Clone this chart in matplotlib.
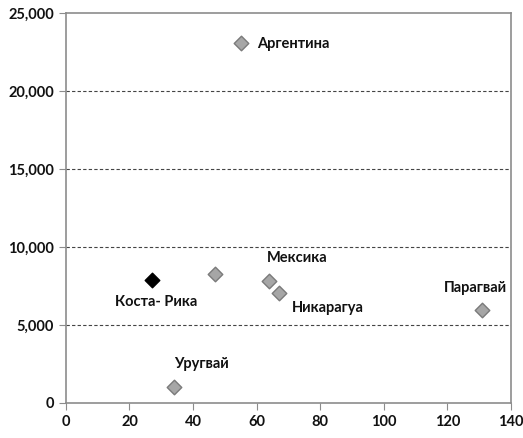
import matplotlib
matplotlib.use("Agg")
from matplotlib import pyplot as plt
from matplotlib.ticker import FuncFormatter

countries = ['Аргентина', '', 'Мексика', 'Никарагуа', 'Парагвай', 'Уругвай']
x_vals = [55, 47, 64, 67, 131, 34]
y_vals = [23100, 8250, 7850, 7050, 5950, 1000]

hl_name = 'Коста- Рика'
hl_x = 27
hl_y = 7900

# label offsets in points (dx, dy) and alignment
offsets = {
    'Аргентина': (12, -1, 'left', 'center'),
    'Мексика': (20, 16, 'center', 'center'),
    'Никарагуа': (9, -11, 'left', 'center'),
    'Парагвай': (-5, 16, 'center', 'center'),
    'Уругвай': (20, 17, 'center', 'center'),
}

plt.rcParams['font.family'] = ['Lato', 'DejaVu Sans']
plt.rcParams['font.weight'] = 'bold'

fig = plt.figure(figsize=(5.23, 4.38), dpi=100)
ax = fig.add_axes([0.126, 0.080, 0.851, 0.890])

ax.scatter(x_vals, y_vals, marker='D', s=55, color='#a6a6a6',
           edgecolor='#7a7a7a', linewidth=1, zorder=3)
ax.scatter([hl_x], [hl_y], marker='D', s=55, color='black',
           edgecolor='black', linewidth=1, zorder=3)

for name, x, y in zip(countries, x_vals, y_vals):
    if not name:
        continue
    dx, dy, ha, va = offsets[name]
    ax.annotate(name, (x, y), xytext=(dx, dy), textcoords='offset points',
                ha=ha, va=va, fontsize=10.5, fontweight='bold', color='#111111')
ax.annotate(hl_name, (hl_x, hl_y), xytext=(3, -16), textcoords='offset points',
            ha='center', va='center', fontsize=10.5, fontweight='bold', color='#111111')

ax.set_xlim(0, 140)
ax.set_ylim(0, 25000)
ax.set_xticks(range(0, 141, 20))
ax.set_yticks(range(0, 25001, 5000))
ax.yaxis.set_major_formatter(FuncFormatter(lambda v, p: f'{int(v):,}'))

for yv in range(5000, 25000, 5000):
    ax.axhline(yv, color='#444444', linestyle=(0, (3, 2)), linewidth=0.8, zorder=1)

for s in ax.spines.values():
    s.set_color('#8c8c8c')
    s.set_linewidth(1.2)

ax.tick_params(direction='out', length=5, color='#8c8c8c', labelsize=10.5,
               labelcolor='#111111')
for lbl in ax.get_xticklabels() + ax.get_yticklabels():
    lbl.set_fontweight('bold')

fig.savefig('out.png', dpi=100)
